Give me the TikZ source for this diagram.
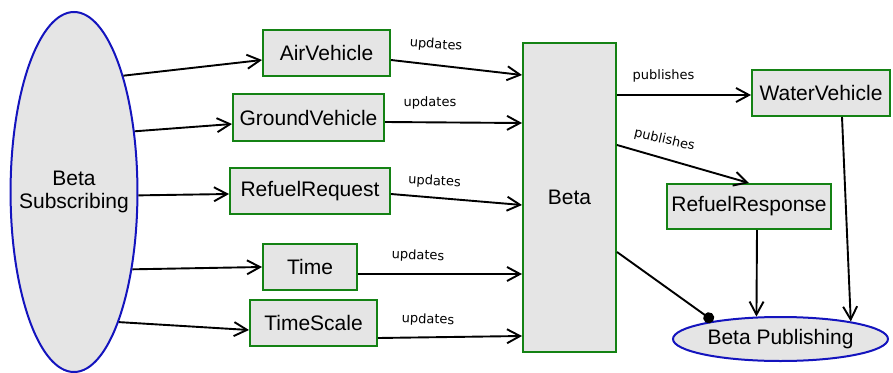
\documentclass[tikz,border=0pt]{standalone}
\usepackage{fontspec}
\setmainfont{Liberation Sans}
\newfontfamily\labelfont{DejaVu Sans}
\usepackage{tikz}
\usetikzlibrary{calc,arrows.meta,shapes.geometric,positioning}
\definecolor{boxgreen}{RGB}{20,130,20}
\definecolor{ovalblue}{RGB}{20,20,190}
\definecolor{boxgrey}{gray}{0.9}

\begin{document}
\begin{tikzpicture}[x=1pt,y=-1pt]

\tikzset{topicnode/.style={font=\fontsize{21}{23}\selectfont,fill=boxgrey,draw=boxgreen,line width=2pt,inner sep=0pt,shape=rectangle},
appnode/.style={font=\fontsize{21}{23}\selectfont,fill=boxgrey,draw=ovalblue,line width=2pt,inner sep=0pt,shape=ellipse,align=center},
flow/.style={line width=1.9pt,-{Straight Barb[length=13pt,width=14pt]}},
edgelabel/.style={font=\labelfont\fontsize{13}{15}\selectfont,inner sep=0pt}}

\useasboundingbox (0,0) rectangle (893,372);

% Subscriber and publisher nodes
\node[appnode,minimum width=124pt,minimum height=360pt,inner xsep=-10pt] (sub) at (74,192) {Beta\\Subscribing};
\node[appnode,minimum width=215pt,minimum height=44pt] (pub) at (780.5,339) {Beta Publishing};

% Topic nodes
\node[topicnode,minimum width=127pt,minimum height=46pt] (air) at (326.5,53) {AirVehicle};
\node[topicnode,minimum width=151pt,minimum height=47pt] (ground) at (308.5,117.5) {GroundVehicle};
\node[topicnode,minimum width=160pt,minimum height=46pt] (refreq) at (310,191) {RefuelRequest};
\node[topicnode,minimum width=94pt,minimum height=46pt] (time) at (310,267) {Time};
\node[topicnode,minimum width=127pt,minimum height=46pt] (tscale) at (313.5,323) {TimeScale};
\node[topicnode,minimum width=93pt,minimum height=309pt] (beta) at (569.5,197.5) {Beta};
\node[topicnode,minimum width=138pt,minimum height=46pt] (water) at (821,93) {WaterVehicle};
\node[topicnode,minimum width=164pt,minimum height=45pt] (refresp) at (749,206.5) {RefuelResponse};

% Edges
\draw[flow] (sub.67) -- ($(air.west)+(0,7)$); \draw[flow] (sub.45) -- ($(ground.west)+(0,6.5)$);
\draw[flow] (sub.-3) -- ($(refreq.west)+(0,3)$); \draw[flow] (sub.-53) -- (time.west);
\draw[flow] (sub.-71) -- ($(tscale.west)+(0,7)$); % subscribing
\draw[flow] ($(air.east)+(0,7)$) -- ($(beta.west)+(0,-122.5)$); \draw[flow] ($(ground.east)+(0,4.5)$) -- ($(beta.west)+(0,-74.5)$);
\draw[flow] ($(refreq.east)+(0,3)$) -- ($(beta.west)+(0,7.5)$); \draw[flow] ($(time.east)+(0,7)$) -- ($(beta.west)+(0,76.5)$);
\draw[flow] ($(tscale.east)+(0,15)$) -- ($(beta.west)+(0,138.5)$); % updates
\draw[flow] ($(beta.east)+(0,-102.5)$) -- ($(water.west)+(0,2)$); \draw[flow] ($(beta.east)+(0,-52.5)$) -- (refresp.north);
\draw[line width=1.9pt,-{Circle[length=11pt]}] ($(beta.east)+(0,54.5)$) -- (pub.165); % publishes
\draw[flow] ($(refresp.south)+(8,0)$) -- (pub.137.5); \draw[flow] ($(water.south)+(21,0)$) -- (pub.14.6);

% Edge labels
\node[edgelabel,rotate=-4] (u1) at (436,45) {updates};
\node[edgelabel] (u2) at (430,103) {updates};
\node[edgelabel,rotate=-3] (u3) at (434.5,181.5) {updates};
\node[edgelabel,rotate=-2] (u4) at (418,256) {updates};
\node[edgelabel,rotate=-2] (u5) at (428,320) {updates};
\node[edgelabel] (p1) at (663.5,75.5) {publishes};
\node[edgelabel,rotate=-13] (p2) at (664.5,140) {publishes};

\end{tikzpicture}
\end{document}
